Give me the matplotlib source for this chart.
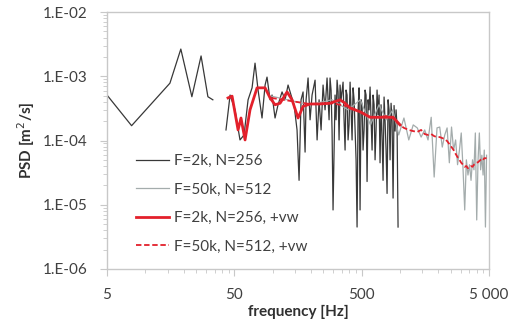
import numpy as np
import matplotlib
matplotlib.use("Agg")
import matplotlib.pyplot as plt
from matplotlib.ticker import FixedLocator, NullFormatter

plt.rcParams["font.family"] = ["Lato", "DejaVu Sans"]

# F=2k, N=256 (low-frequency piece, then the noisy part)
f_2k_low = [5.0, 7.8, 15.6, 19.0, 23.2, 27.4, 31.0, 33.9]
psd_2k_low = [5.1e-4, 1.7e-4, 7.8e-4, 2.65e-3, 4.8e-4, 2.07e-3, 4.8e-4, 4.3e-4]

f_2k = [43.0, 46.3, 50.6, 55.4, 59.6, 64.1, 68.9, 72.7, 76.8, 82.5, 87.2, 90.3,
        95.4, 98.9, 104.4, 110.2, 118.5, 125.1, 132.1, 139.4, 147.2, 155.4, 161.2,
        167.1, 173.3, 179.7, 183.0, 189.7, 196.7, 203.9, 215.3, 223.3, 231.5, 240.0,
        248.8, 257.9, 267.4, 277.4, 282.3, 287.5, 292.7, 298.0, 309.0, 314.7, 320.5,
        326.4, 332.3, 338.3, 344.5, 357.2, 363.7, 370.4, 377.1, 384.0, 391.0, 398.1,
        405.5, 412.9, 420.4, 428.1, 436.0, 443.9, 451.9, 460.1, 468.6, 476.9, 485.7,
        494.6, 503.6, 512.8, 522.2, 531.7, 541.4, 551.3, 561.4, 571.6, 582.1, 592.8,
        603.6, 614.6, 625.8, 637.1, 648.6, 660.5, 672.5, 684.7, 697.2, 709.9, 722.9,
        736.2, 749.8, 763.5, 777.4, 791.5, 806.0, 820.6, 835.7, 851.0, 866.5, 882.3,
        898.4, 914.8, 931.5, 948.5, 965.6]
psd_2k = [1.46e-4, 5.1e-4, 3.0e-4, 1.02e-4, 1.22e-4, 4.3e-4, 6.6e-4, 1.6e-3, 6.1e-4,
          2.24e-4, 7.3e-4, 9.7e-4, 4.3e-4, 5.1e-4, 2.24e-4, 3.6e-4, 5.7e-4, 4.3e-4,
          7.3e-4, 5.1e-4, 3.6e-4, 1.46e-4, 2.4e-5, 4.3e-4, 5.7e-4, 6.6e-5, 4.3e-4,
          9.4e-4, 2.1e-4, 5.1e-4, 8.7e-4, 1.02e-4, 4.3e-4, 1.46e-4, 7.3e-4, 3.0e-4,
          9.4e-4, 2.1e-4, 9.4e-4, 6.1e-4, 1.46e-4, 8.3e-6, 5.1e-4, 2.1e-4, 8.7e-4,
          5.7e-4, 1.02e-4, 7.3e-4, 4.3e-4, 8.1e-4, 2.1e-4, 7.1e-5, 6.1e-4, 5.1e-4,
          1.02e-4, 1.75e-4, 8.1e-4, 3.0e-4, 1.02e-4, 6.6e-4, 4.3e-4, 1.46e-4, 5.0e-5,
          4.5e-6, 3.0e-4, 6.6e-4, 8.3e-6, 4.3e-4, 3.6e-4, 7.1e-5, 1.46e-4, 6.1e-4,
          5.1e-4, 2.3e-5, 4.3e-4, 3.0e-4, 6.8e-4, 2.1e-4, 7.1e-5, 5.1e-4, 3.6e-4,
          5.0e-5, 1.46e-4, 6.1e-4, 2.5e-4, 5.1e-4, 4.5e-5, 3.6e-4, 1.2e-4, 2.4e-5,
          4.75e-4, 2.0e-4, 7.1e-5, 1.5e-5, 4.3e-4, 3.0e-4, 5.0e-5, 3.8e-4, 2.0e-4,
          1.27e-5, 3.5e-4, 1.4e-4, 3.0e-4, 1.6e-4, 4.5e-6]

# F=50k, N=512
f_50k = [97.7, 195, 293, 391, 488, 586, 684, 781, 879, 977, 1074, 1172, 1270, 1367,
         1465, 1563, 1660, 1758, 1855, 1953, 2051, 2148, 2246, 2344, 2441, 2539, 2637,
         2734, 2832, 2930, 3027, 3125, 3223, 3320, 3418, 3516, 3613, 3711, 3809, 3906,
         4004, 4102, 4199, 4297, 4395, 4492, 4590, 4688, 4785]
psd_50k = [4.9e-4, 3.6e-4, 4.3e-4, 3.0e-4, 4.3e-4, 1.75e-4, 3.6e-4, 2.1e-4, 3.0e-4,
           1.22e-4, 2.24e-4, 1.02e-4, 1.75e-4, 1.57e-4, 1.13e-4, 1.46e-4, 1.02e-4,
           2.3e-4, 2.7e-5, 1.57e-4, 1.62e-4, 7.9e-5, 1.22e-4, 1.57e-4, 4.5e-5, 1.62e-4,
           7.1e-5, 1.02e-4, 4.2e-5, 7.1e-5, 1.31e-4, 3.7e-5, 8.3e-6, 5.0e-5, 2.9e-5,
           4.2e-5, 2.4e-5, 5.0e-5, 3.5e-5, 1.31e-4, 5.8e-6, 5.0e-5, 1.31e-4, 3.5e-5,
           5.9e-5, 2.9e-5, 7.1e-5, 4.5e-6, 5.9e-5]

# F=2k, N=256, +vw
f_2k_vw = [44.6, 46.3, 48.0, 53.5, 56.4, 60.7, 66.4, 75.4, 87.2, 95.4, 104.4, 114.3,
           129.7, 142.0, 158.3, 173.3, 196.7, 235.7, 282.3, 338.3, 370.4, 405.5, 485.7,
           582.1, 697.2, 882.3, 1001]
psd_2k_vw = [4.6e-4, 4.75e-4, 4.9e-4, 1.46e-4, 2.24e-4, 1.02e-4, 3.0e-4, 6.6e-4, 6.6e-4,
             4.6e-4, 3.6e-4, 3.8e-4, 5.7e-4, 4.3e-4, 2.24e-4, 3.4e-4, 3.7e-4, 3.7e-4,
             3.8e-4, 4.3e-4, 3.8e-4, 3.2e-4, 2.8e-4, 2.3e-4, 2.3e-4, 2.3e-4, 1.75e-4]

# F=50k, N=512, +vw
psd_50k_vw = [4.6e-4, 3.7e-4, 3.8e-4, 3.4e-4, 2.8e-4, 2.3e-4, 2.3e-4, 2.4e-4, 2.24e-4,
              1.8e-4, 1.57e-4, 1.46e-4, 1.4e-4, 1.36e-4, 1.46e-4, 1.26e-4, 1.22e-4,
              1.26e-4, 1.17e-4, 1.13e-4, 1.13e-4, 1.09e-4, 1.05e-4, 9.8e-5, 8.8e-5,
              7.9e-5, 7.1e-5, 6.2e-5, 5.5e-5, 5.0e-5, 4.5e-5, 4.2e-5, 3.9e-5, 4.0e-5,
              3.7e-5, 3.9e-5, 4.0e-5, 3.9e-5, 4.2e-5, 4.3e-5, 4.5e-5, 4.6e-5, 4.8e-5,
              5.0e-5, 5.2e-5, 5.0e-5, 5.3e-5, 5.3e-5, 5.3e-5]

x_ticks = [5, 50, 500, 5000]
x_labels = ["5", "50", "500", "5 000"]
y_ticks = [1e-6, 1e-5, 1e-4, 1e-3, 1e-2]
y_labels = ["1.E-06", "1.E-05", "1.E-04", "1.E-03", "1.E-02"]

fig = plt.figure(figsize=(5.21, 3.30), dpi=100)
ax = fig.add_axes([107 / 521, 1 - 269 / 330, 382 / 521, 257 / 330])

f_black = f_2k_low + [np.nan] + f_2k
p_black = psd_2k_low + [np.nan] + psd_2k
ax.plot(f_black, p_black, color="#383838", lw=0.9, label="F=2k, N=256")
ax.plot(f_50k, psd_50k, color="#a4acac", lw=0.9, label="F=50k, N=512")
ax.plot(f_2k_vw, psd_2k_vw, color="#e3202b", lw=2.0, label="F=2k, N=256, +vw")
ax.plot(f_50k, psd_50k_vw, color="#e3202b", lw=1.3, ls=(0, (3, 1.5)),
        label="F=50k, N=512, +vw")

ax.set_xscale("log")
ax.set_yscale("log")
ax.set_xlim(5, 5000)
ax.set_ylim(1e-6, 1e-2)

ax.xaxis.set_major_locator(FixedLocator(x_ticks))
ax.set_xticklabels(x_labels)
x_minor = [m * d for d in (10, 100, 1000) for m in (1, 1.5, 2, 2.5, 3, 3.5, 4, 4.5)]
ax.xaxis.set_minor_locator(FixedLocator(x_minor))
ax.xaxis.set_minor_formatter(NullFormatter())
ax.yaxis.set_major_locator(FixedLocator(y_ticks))
ax.set_yticklabels(y_labels)
y_minor = [m * d for d in (1e-6, 1e-5, 1e-4, 1e-3) for m in range(2, 10)]
ax.yaxis.set_minor_locator(FixedLocator(y_minor))
ax.yaxis.set_minor_formatter(NullFormatter())

for s in ax.spines.values():
    s.set_color("#c8c8c8")
    s.set_linewidth(1.0)
ax.tick_params(which="major", length=5, color="#c8c8c8", labelsize=11,
               labelcolor="#404040", pad=9)
ax.tick_params(which="minor", length=3, color="#c8c8c8")

ax.set_xlabel("frequency [Hz]", fontsize=11, fontweight="bold", color="#303030",
              labelpad=2)
ax.set_ylabel("PSD [m$^2$/s]", fontsize=11, fontweight="bold", color="#303030",
              labelpad=4)

ax.legend(loc="center left", bbox_to_anchor=(0.075, 0.253), frameon=False,
          fontsize=11, labelcolor="#404040", handlelength=2.2, handletextpad=0.3,
          labelspacing=0.95, borderpad=0, borderaxespad=0)

plt.savefig("out.png", dpi=100)
